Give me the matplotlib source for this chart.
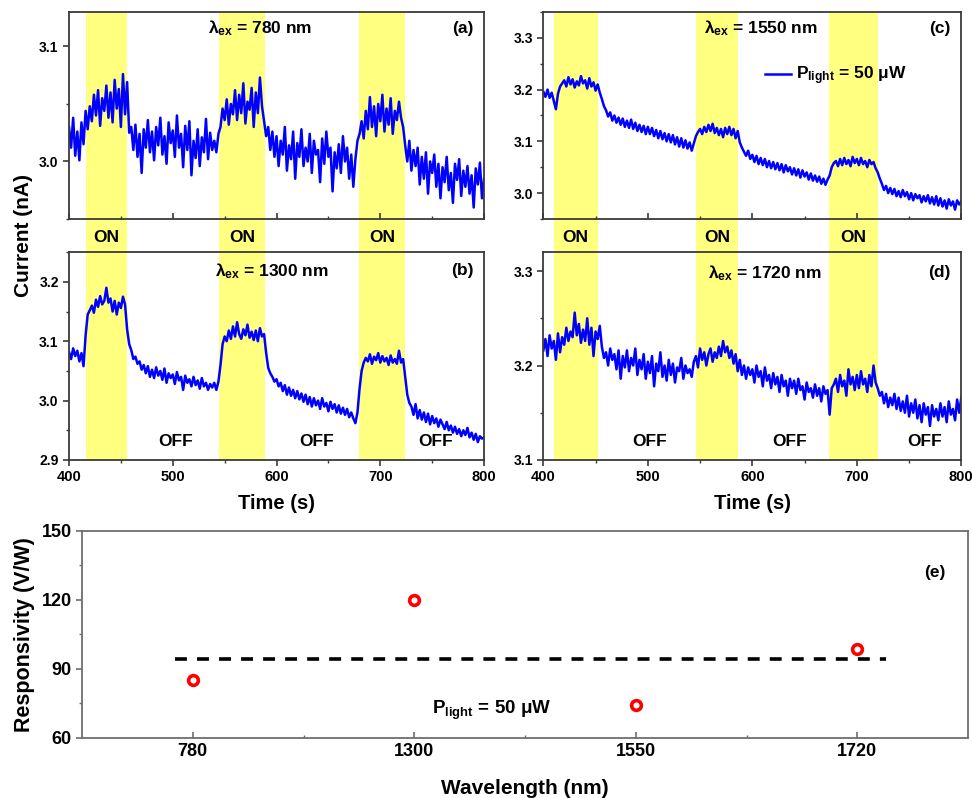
import numpy as np
import matplotlib
matplotlib.use("Agg")
import matplotlib.pyplot as plt
from matplotlib.patches import Rectangle
from matplotlib.transforms import blended_transform_factory
from matplotlib.ticker import MultipleLocator

plt.rcParams['font.family'] = ['Liberation Sans', 'DejaVu Sans']
plt.rcParams['font.weight'] = 'bold'
plt.rcParams['mathtext.fontset'] = 'custom'
plt.rcParams['mathtext.rm'] = 'Liberation Sans:bold'
plt.rcParams['mathtext.it'] = 'Liberation Sans:bold'
plt.rcParams['mathtext.bf'] = 'Liberation Sans:bold'

# ---- data: current traces sampled every 2 s from 400 s to 800 s ----
t_start, t_step = 400, 2

cur_780 = [
    3.030, 3.012, 3.038, 3.005, 3.026, 3.001, 3.034, 3.015, 3.044, 3.028,
    3.048, 3.035, 3.058, 3.040, 3.062, 3.031, 3.055, 3.044, 3.066, 3.038,
    3.060, 3.034, 3.071, 3.046, 3.063, 3.030, 3.076, 3.041, 3.069, 3.025,
    3.030, 3.010, 3.032, 3.004, 3.024, 2.990, 3.028, 3.012, 3.036, 3.008,
    3.026, 3.001, 3.030, 3.014, 3.038, 3.006, 3.022, 2.998, 3.034, 3.016,
    3.027, 3.004, 3.040, 3.012, 3.024, 2.995, 3.031, 3.010, 3.035, 2.988,
    3.018, 3.003, 3.028, 2.996, 3.021, 3.008, 3.037, 3.002, 3.025, 3.010,
    3.018, 3.008, 3.024, 3.030, 3.046, 3.036, 3.054, 3.032, 3.050, 3.041,
    3.062, 3.036, 3.058, 3.042, 3.068, 3.033, 3.052, 3.045, 3.064, 3.030,
    3.060, 3.042, 3.073, 3.048, 3.035, 3.022, 3.030, 3.010, 3.026, 3.004,
    3.022, 2.996, 3.018, 3.006, 3.030, 2.992, 3.014, 3.002, 3.026, 2.985,
    3.016, 3.004, 3.028, 2.996, 3.012, 3.000, 3.024, 2.990, 3.018, 3.006,
    3.010, 2.982, 3.020, 2.998, 3.026, 3.004, 3.012, 2.974, 3.008, 2.994,
    3.015, 2.990, 3.022, 3.000, 3.012, 2.985, 3.006, 2.978, 3.002, 3.018,
    3.024, 3.035, 3.020, 3.044, 3.028, 3.056, 3.030, 3.048, 3.022, 3.050,
    3.035, 3.058, 3.026, 3.046, 3.032, 3.055, 3.024, 3.044, 3.036, 3.052,
    3.038, 3.030, 3.014, 3.000, 3.018, 2.992, 3.010, 2.996, 3.012, 2.980,
    3.004, 2.985, 3.008, 2.972, 3.000, 2.990, 3.006, 2.978, 2.998, 2.968,
    2.995, 2.982, 3.004, 2.975, 2.990, 2.964, 2.998, 2.984, 3.002, 2.970,
    2.992, 2.978, 2.996, 2.972, 2.988, 2.960, 2.994, 2.980, 2.999, 2.968,
    2.985,
]

cur_1300 = [
    3.082, 3.070, 3.088, 3.075, 3.084, 3.066, 3.080, 3.058, 3.110, 3.145,
    3.152, 3.160, 3.148, 3.170, 3.158, 3.176, 3.162, 3.168, 3.190, 3.165,
    3.172, 3.150, 3.168, 3.145, 3.165, 3.156, 3.175, 3.162, 3.120, 3.095,
    3.085, 3.070, 3.074, 3.062, 3.066, 3.052, 3.060, 3.046, 3.058, 3.040,
    3.052, 3.038, 3.056, 3.042, 3.050, 3.035, 3.054, 3.030, 3.046, 3.038,
    3.044, 3.028, 3.048, 3.034, 3.040, 3.018, 3.042, 3.030, 3.036, 3.024,
    3.040, 3.026, 3.034, 3.020, 3.038, 3.024, 3.030, 3.018, 3.028, 3.022,
    3.030, 3.018, 3.032, 3.060, 3.095, 3.108, 3.100, 3.118, 3.104, 3.125,
    3.108, 3.132, 3.112, 3.104, 3.120, 3.110, 3.128, 3.106, 3.116, 3.102,
    3.118, 3.100, 3.122, 3.108, 3.112, 3.080, 3.055, 3.046, 3.040, 3.032,
    3.036, 3.024, 3.030, 3.016, 3.026, 3.010, 3.022, 3.008, 3.018, 3.004,
    3.016, 3.002, 3.012, 2.998, 3.010, 2.994, 3.006, 2.990, 3.004, 2.992,
    3.000, 2.986, 3.004, 2.990, 2.996, 2.982, 2.998, 2.986, 2.994, 2.980,
    2.992, 2.978, 2.988, 2.976, 2.986, 2.972, 2.980, 2.970, 2.962, 2.980,
    3.020, 3.050, 3.064, 3.072, 3.066, 3.078, 3.062, 3.074, 3.068, 3.080,
    3.064, 3.075, 3.066, 3.072, 3.060, 3.076, 3.064, 3.070, 3.062, 3.084,
    3.064, 3.070, 3.040, 3.010, 2.996, 2.990, 2.976, 2.994, 2.970, 2.984,
    2.968, 2.980, 2.964, 2.978, 2.960, 2.974, 2.962, 2.970, 2.956, 2.968,
    2.960, 2.952, 2.964, 2.950, 2.958, 2.946, 2.956, 2.944, 2.952, 2.940,
    2.950, 2.942, 2.954, 2.938, 2.946, 2.934, 2.944, 2.930, 2.940, 2.936,
    2.938,
]

cur_1550 = [
    3.196, 3.186, 3.200, 3.184, 3.194, 3.178, 3.162, 3.192, 3.206, 3.212,
    3.218, 3.206, 3.224, 3.210, 3.220, 3.204, 3.216, 3.208, 3.226, 3.212,
    3.218, 3.202, 3.222, 3.206, 3.214, 3.198, 3.210, 3.194, 3.182, 3.168,
    3.160, 3.148, 3.156, 3.140, 3.150, 3.136, 3.146, 3.132, 3.144, 3.128,
    3.140, 3.126, 3.142, 3.124, 3.136, 3.120, 3.132, 3.118, 3.130, 3.114,
    3.128, 3.114, 3.126, 3.110, 3.122, 3.106, 3.120, 3.104, 3.116, 3.100,
    3.114, 3.098, 3.112, 3.094, 3.108, 3.090, 3.106, 3.088, 3.102, 3.086,
    3.098, 3.082, 3.096, 3.110, 3.118, 3.124, 3.114, 3.128, 3.118, 3.132,
    3.120, 3.134, 3.116, 3.126, 3.112, 3.124, 3.108, 3.126, 3.114, 3.128,
    3.112, 3.124, 3.106, 3.120, 3.098, 3.088, 3.080, 3.072, 3.082, 3.066,
    3.074, 3.060, 3.072, 3.056, 3.068, 3.054, 3.066, 3.050, 3.062, 3.048,
    3.060, 3.046, 3.058, 3.044, 3.056, 3.040, 3.054, 3.042, 3.050, 3.036,
    3.048, 3.034, 3.046, 3.030, 3.044, 3.032, 3.040, 3.026, 3.038, 3.024,
    3.034, 3.022, 3.032, 3.018, 3.028, 3.016, 3.026, 3.034, 3.050, 3.058,
    3.062, 3.052, 3.066, 3.054, 3.068, 3.056, 3.064, 3.052, 3.070, 3.058,
    3.066, 3.054, 3.068, 3.056, 3.062, 3.050, 3.064, 3.056, 3.060, 3.048,
    3.040, 3.028, 3.018, 3.006, 3.014, 3.000, 3.010, 2.998, 3.008, 2.994,
    3.004, 2.992, 3.006, 2.994, 3.002, 2.988, 3.000, 2.986, 2.998, 2.990,
    2.996, 2.982, 2.994, 2.984, 2.996, 2.980, 2.992, 2.978, 2.994, 2.976,
    2.990, 2.974, 2.986, 2.970, 2.988, 2.976, 2.984, 2.968, 2.986, 2.978,
    2.984,
]

cur_1720 = [
    3.216, 3.228, 3.210, 3.232, 3.218, 3.226, 3.206, 3.234, 3.214, 3.230,
    3.222, 3.240, 3.226, 3.236, 3.230, 3.256, 3.232, 3.244, 3.224, 3.238,
    3.226, 3.250, 3.222, 3.240, 3.210, 3.236, 3.228, 3.242, 3.220, 3.208,
    3.214, 3.200, 3.218, 3.206, 3.212, 3.196, 3.216, 3.186, 3.210, 3.198,
    3.216, 3.194, 3.208, 3.200, 3.218, 3.190, 3.206, 3.196, 3.212, 3.186,
    3.204, 3.192, 3.210, 3.178, 3.202, 3.194, 3.214, 3.188, 3.200, 3.184,
    3.206, 3.190, 3.202, 3.182, 3.198, 3.194, 3.208, 3.186, 3.200, 3.192,
    3.196, 3.188, 3.204, 3.210, 3.198, 3.218, 3.206, 3.214, 3.200, 3.212,
    3.218, 3.204, 3.214, 3.208, 3.220, 3.210, 3.226, 3.214, 3.220, 3.208,
    3.216, 3.202, 3.212, 3.194, 3.206, 3.190, 3.200, 3.186, 3.198, 3.190,
    3.196, 3.182, 3.200, 3.188, 3.194, 3.178, 3.198, 3.184, 3.190, 3.176,
    3.192, 3.180, 3.188, 3.172, 3.190, 3.178, 3.184, 3.168, 3.186, 3.176,
    3.184, 3.170, 3.186, 3.174, 3.178, 3.164, 3.182, 3.172, 3.176, 3.166,
    3.180, 3.168, 3.176, 3.162, 3.178, 3.170, 3.174, 3.148, 3.176, 3.180,
    3.186, 3.172, 3.190, 3.178, 3.184, 3.168, 3.196, 3.180, 3.188, 3.174,
    3.190, 3.176, 3.194, 3.180, 3.186, 3.172, 3.190, 3.178, 3.200, 3.182,
    3.176, 3.168, 3.172, 3.160, 3.170, 3.156, 3.166, 3.158, 3.170, 3.154,
    3.166, 3.152, 3.162, 3.150, 3.168, 3.146, 3.160, 3.150, 3.164, 3.144,
    3.158, 3.140, 3.160, 3.148, 3.156, 3.136, 3.158, 3.146, 3.154, 3.142,
    3.160, 3.146, 3.156, 3.140, 3.162, 3.148, 3.154, 3.142, 3.164, 3.150,
    3.166,
]

# light-on intervals (s)
on_left = [(416, 456), (545, 589), (679, 724)]
on_right = [(410, 452), (546, 586), (673, 720)]

# responsivity panel
wl_labels = ['780', '1300', '1550', '1720']
responsivity = [85, 120, 74.5, 98.5]
resp_mean = 94.5

blue = '#0000ff'
yellow = '#ffff80'
spine_col = '#3a3a3a'

fig = plt.figure(figsize=(9.72, 7.98), dpi=100)


def style_axes(ax, xin, col=spine_col):
    for s in ax.spines.values():
        s.set_color(col)
        s.set_linewidth(1.3)
    ax.tick_params(axis='y', which='both', direction='out', left=True,
                   right=False, colors=col, labelcolor='black', labelsize=10)
    ax.tick_params(axis='x', which='both', direction='in' if xin else 'out',
                   top=False, colors=col, labelcolor='black', labelsize=10.5)
    ax.tick_params(which='major', length=4, width=1.2)
    ax.tick_params(which='minor', length=2.5, width=1.0)


def trace_panel(rect, vals, bands, ylim, ymaj, lab, lam, lam_xy, show_x):
    ax = fig.add_axes(rect)
    t = np.arange(t_start, t_start + t_step * len(vals), t_step)
    for a, b in bands:
        ax.axvspan(a, b, color=yellow, lw=0, zorder=0)
    line, = ax.plot(t, vals, color=blue, lw=1.8, zorder=2)
    ax.set_xlim(400, 800)
    ax.set_ylim(*ylim)
    ax.xaxis.set_major_locator(MultipleLocator(100))
    ax.xaxis.set_minor_locator(MultipleLocator(50))
    ax.yaxis.set_major_locator(MultipleLocator(ymaj))
    ax.yaxis.set_minor_locator(MultipleLocator(ymaj / 2))
    ax.yaxis.set_major_formatter(plt.FormatStrFormatter('%.1f'))
    style_axes(ax, xin=not show_x)
    if not show_x:
        ax.set_xticklabels([])
    ax.text(lam_xy[0], lam_xy[1], r'$\lambda_{ex}$' + ' = %s nm' % lam,
            transform=ax.transAxes, ha='center', va='center', fontsize=12.5,
            fontweight='bold')
    ax.text(0.975, lam_xy[1], lab, transform=ax.transAxes, ha='right',
            va='center', fontsize=12.5, fontweight='bold')
    return ax, line


top_y, top_h = 0.7256, 0.985 - 0.7256
bot_y, bot_h = 0.4236, 0.684 - 0.4236
lx, lw_ = 0.071, 0.498 - 0.071
rx, rw = 0.559, 0.989 - 0.559

ax_a, _ = trace_panel([lx, top_y, lw_, top_h], cur_780, on_left, (2.95, 3.13),
                      0.1, '(a)', '780', (0.46, 0.92), False)
ax_b, _ = trace_panel([lx, bot_y, lw_, bot_h], cur_1300, on_left, (2.9, 3.25),
                      0.1, '(b)', '1300', (0.49, 0.91), True)
ax_c, line_c = trace_panel([rx, top_y, rw, top_h], cur_1550, on_right,
                           (2.95, 3.35), 0.1, '(c)', '1550', (0.52, 0.92), False)
ax_d, _ = trace_panel([rx, bot_y, rw, bot_h], cur_1720, on_right, (3.1, 3.32),
                      0.1, '(d)', '1720', (0.53, 0.90), True)

ax_c.legend([line_c], [r'$P_{light}$' + ' = 50 μW'], loc='center left',
            bbox_to_anchor=(0.51, 0.69), frameon=False,
            handlelength=1.5, handletextpad=0.3, borderpad=0,
            prop={'weight': 'bold', 'size': 12.5})

# yellow bands through the gap between rows, with ON labels
for ax, bands in ((ax_a, on_left), (ax_c, on_right)):
    tr = blended_transform_factory(ax.transData, fig.transFigure)
    for a, b in bands:
        fig.add_artist(Rectangle((a, bot_y + bot_h), b - a, top_y - bot_y - bot_h,
                                 transform=tr, color=yellow, lw=0, zorder=0))
        fig.text((a + b) / 2, (top_y + bot_y + bot_h) / 2 - 0.003, 'ON',
                 transform=tr, ha='center', va='center', fontsize=12.5,
                 fontweight='bold')

for ax, xs in ((ax_b, [503, 639, 753]), (ax_d, [502, 636, 765])):
    for x in xs:
        ax.text(x, 0.087, 'OFF', transform=ax.get_xaxis_transform(),
                ha='center', va='center', fontsize=12.5, fontweight='bold')

for ax in (ax_b, ax_d):
    ax.set_xlabel('Time (s)', fontsize=14.5, fontweight='bold', labelpad=7)

fig.text(0.024, (0.4236 + 0.985) / 2, 'Current (nA)', rotation=90, ha='center',
         va='center', fontsize=15, fontweight='bold')

# ---- panel (e) ----
ax_e = fig.add_axes([0.0844, 0.0752, 0.996 - 0.0844, 0.3346 - 0.0752])
pos = np.arange(1, len(wl_labels) + 1)
ax_e.plot([0.92, 4.13], [resp_mean, resp_mean], color='black', lw=2.6,
          linestyle=(0, (3.3, 2.8)), zorder=1)
ax_e.plot(pos, responsivity, 'o', ms=7, mfc='white', mec='#ff0000', mew=2.6,
          zorder=3)
ax_e.set_xlim(0.5, 4.5)
ax_e.set_ylim(60, 150)
ax_e.set_xticks(pos)
ax_e.set_xticklabels(wl_labels)
ax_e.set_xticks([1.5, 2.5, 3.5], minor=True)
ax_e.yaxis.set_major_locator(MultipleLocator(30))
ax_e.yaxis.set_minor_locator(MultipleLocator(15))
style_axes(ax_e, xin=True, col='#6e6e6e')
ax_e.tick_params(labelsize=13)
ax_e.set_xlabel('Wavelength (nm)', fontsize=15, fontweight='bold', labelpad=14)
ax_e.set_ylabel('Responsivity (V/W)', fontsize=15.5, fontweight='bold',
                labelpad=5)
ax_e.text(0.975, 0.80, '(e)', transform=ax_e.transAxes, ha='right', va='center',
          fontsize=12.5, fontweight='bold')
ax_e.text(2.35, 72, r'$P_{light}$' + ' = 50 μW', ha='center', va='center',
          fontsize=13.5, fontweight='bold')

fig.savefig('out.png', dpi=100)
